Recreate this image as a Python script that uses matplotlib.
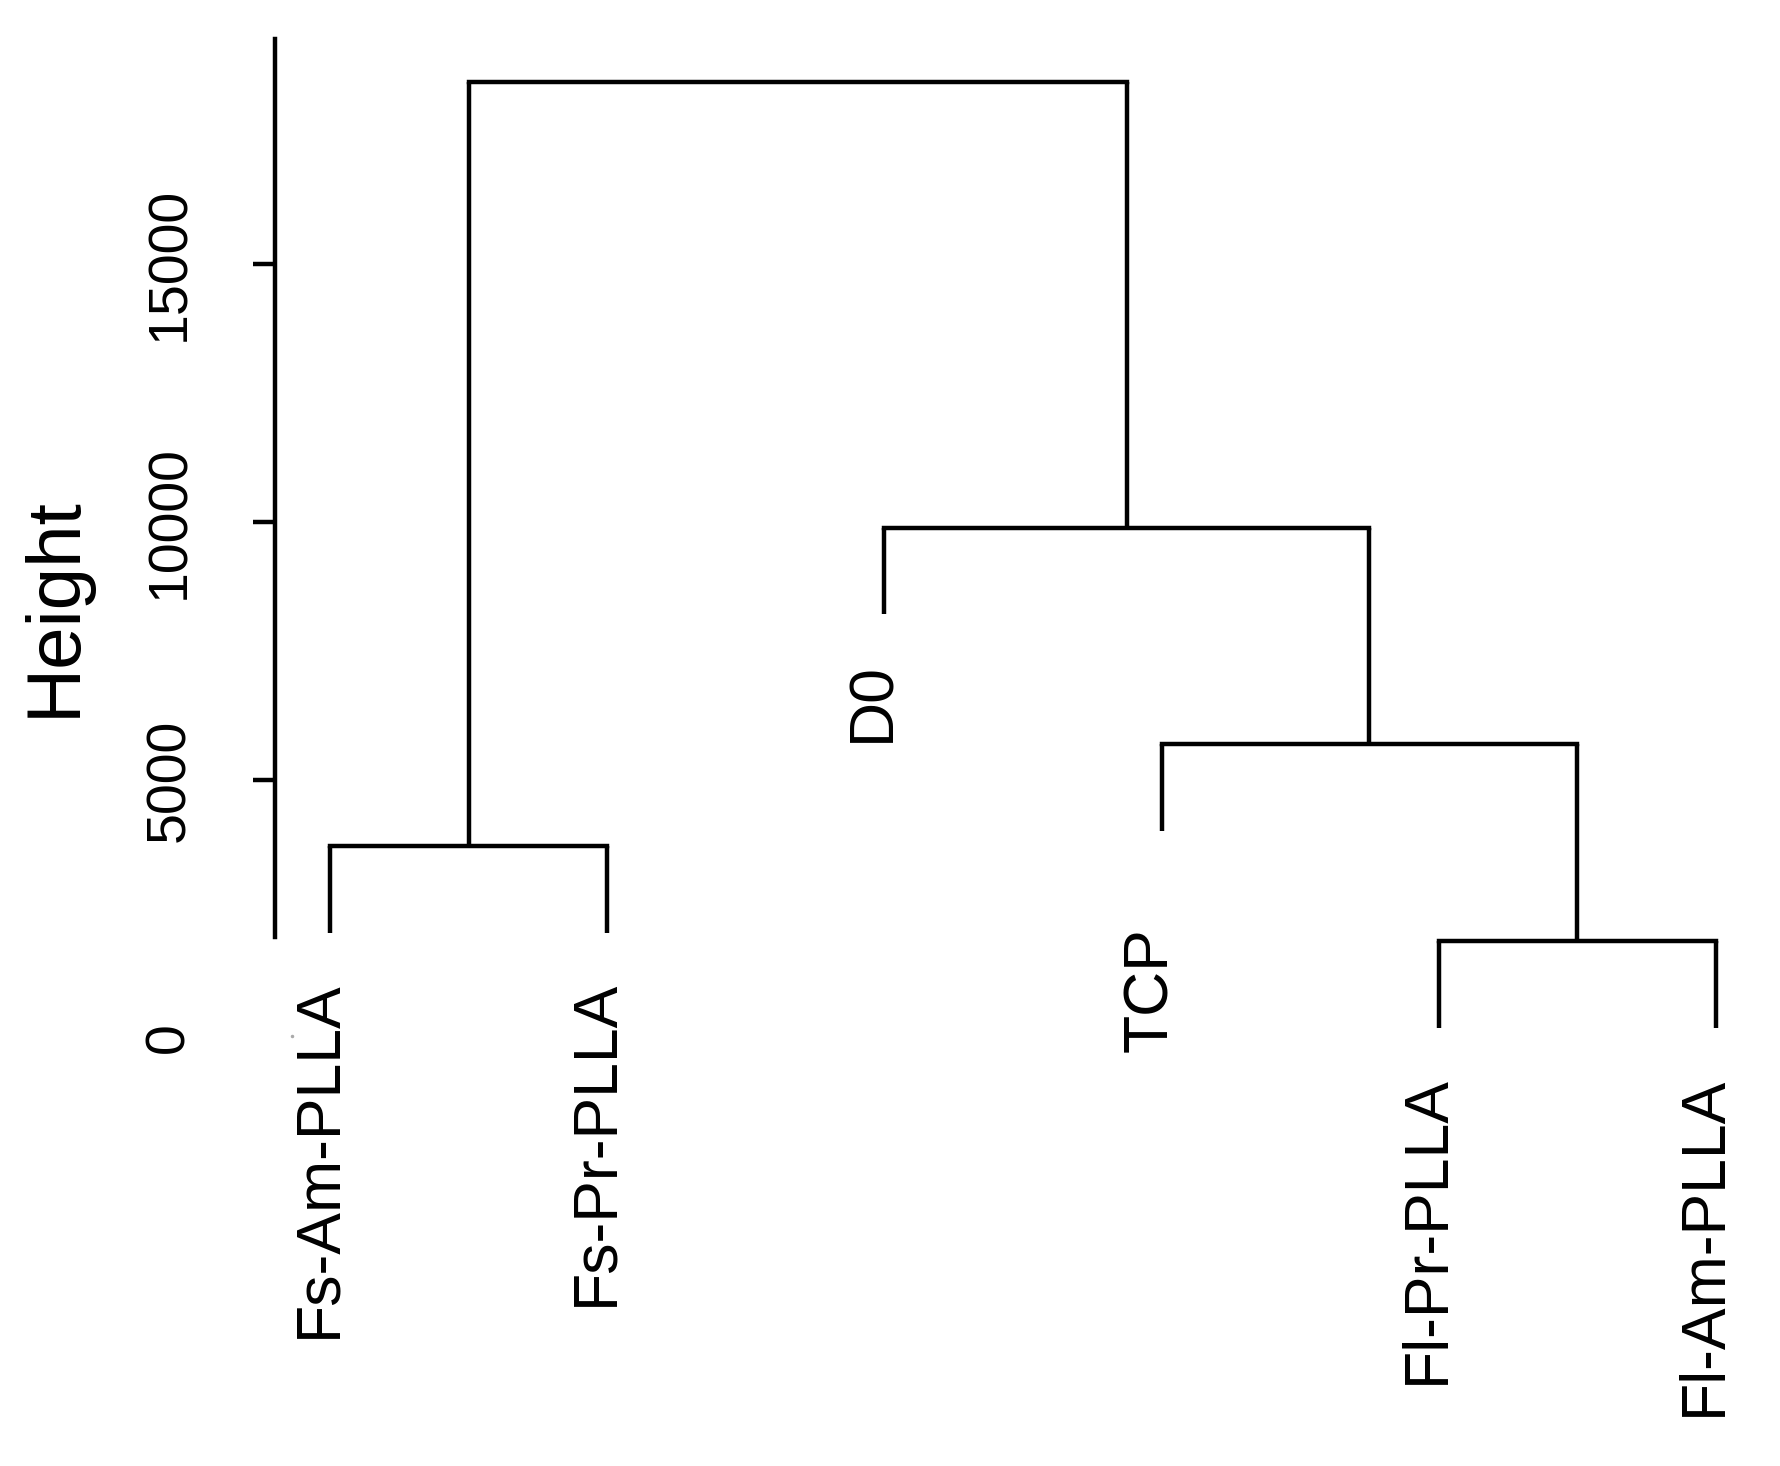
import matplotlib
matplotlib.use("Agg")
import matplotlib.pyplot as plt

plt.rcParams["font.family"] = ["Liberation Sans", "DejaVu Sans"]

# leaves in plotting order (left to right)
leaves = ["Fs-Am-PLLA", "Fs-Pr-PLLA", "D0", "TCP", "Fl-Pr-PLLA", "Fl-Am-PLLA"]

# merges: (left member, right member, height); members are leaf index (int) or merge key (str)
merge_keys = ["m1", "m2", "m3", "m4", "m5"]
merge_left = [0, 4, 3, 2, "m1"]
merge_right = [1, 5, "m2", "m3", "m4"]
merge_height = [3720, 1870, 5700, 9890, 18520]

hang = 1680
ytick_values = [0, 5000, 10000, 15000]
ytick_labels = ["0", "5000", "10000", "15000"]
y_label = "Height"

LW = 3.2
INK = "black"
# label gap below leaf end (points); TCP sits lower in the original
LABEL_GAP = {"TCP": 70}

fig = plt.figure(figsize=(17.81, 14.66), dpi=100)
ax = fig.add_axes([0.1544, 0.2920, 0.840, 0.6828])
ax.set_xlim(0.8, 6.2)
ax.set_ylim(0, 19400)

pos = {i: i + 1 for i in range(len(leaves))}
top = {}

# draw the merges
for key, l, r, h in zip(merge_keys, merge_left, merge_right, merge_height):
    xs = []
    for m in (l, r):
        x = pos[m]
        y0 = h - hang if isinstance(m, int) else top[m]
        ax.plot([x, x], [y0, h], color=INK, lw=LW, solid_capstyle="butt")
        xs.append(x)
        if isinstance(m, int):
            gap = LABEL_GAP.get(leaves[m], 34)
            ax.annotate(leaves[m], xy=(x, y0), xytext=(-8, -gap),
                        textcoords="offset points", rotation=90,
                        ha="center", va="top", fontsize=45, annotation_clip=False)
    ax.plot([xs[0], xs[1]], [h, h], color=INK, lw=LW, solid_capstyle="projecting")
    pos[key] = (xs[0] + xs[1]) / 2
    top[key] = h

# axis
for s in ["top", "right", "bottom"]:
    ax.spines[s].set_visible(False)
ax.spines["left"].set_bounds(1957, 19360)
ax.spines["left"].set_linewidth(LW)
ax.set_xticks([])
ax.set_yticks(ytick_values)
ax.set_yticklabels(ytick_labels, rotation=90, va="center", fontsize=40)
ax.tick_params(axis="y", length=16, width=LW, pad=41)
ax.yaxis.get_major_ticks()[0].tick1line.set_visible(False)
ax.plot([0.86], [40], marker="o", ms=1.5, color="#aaaaaa", clip_on=False)

fig.text(55 / 1781, 1 - 607 / 1466, y_label, rotation=90, ha="center",
         va="center", fontsize=55)

fig.savefig("out.png", dpi=100, facecolor="white")
